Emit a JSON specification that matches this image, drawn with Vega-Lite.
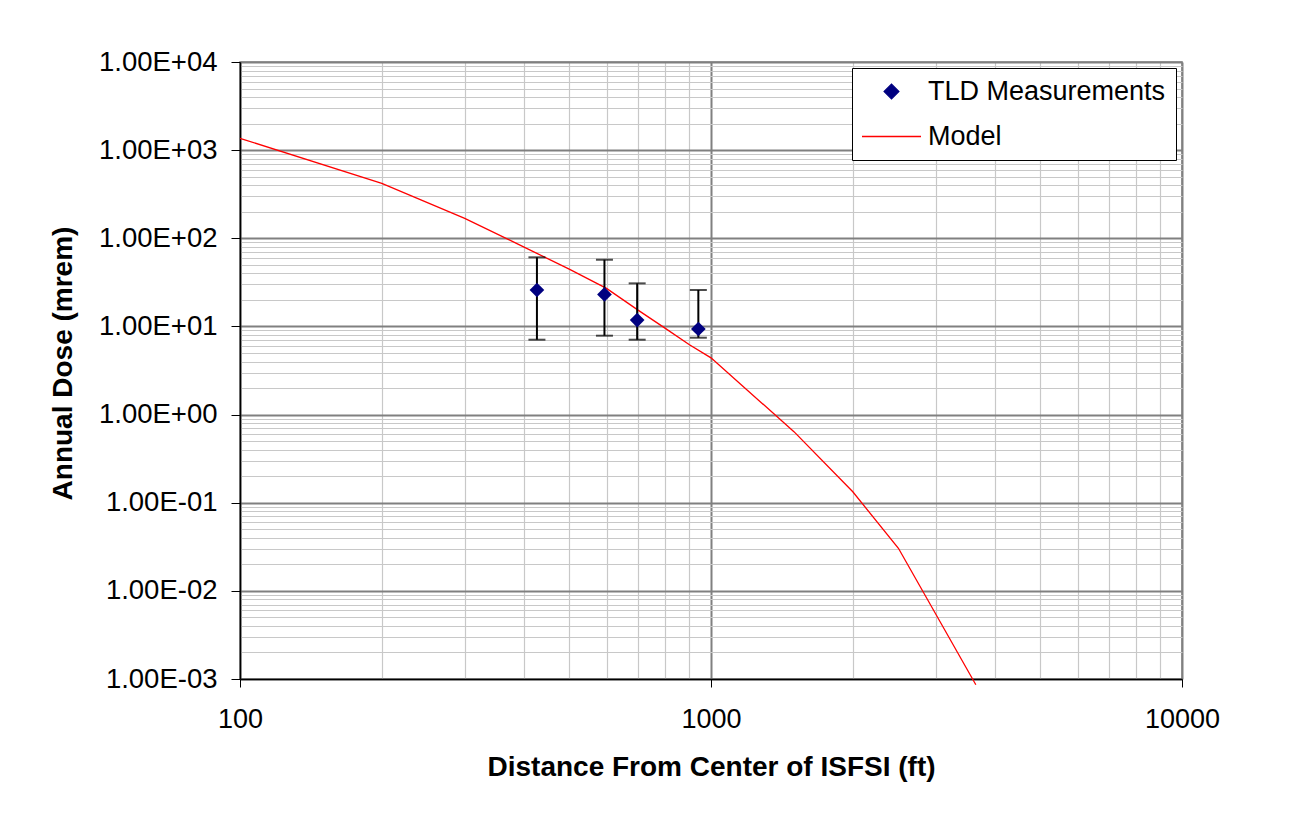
{
  "$schema": "https://vega.github.io/schema/vega-lite/v6.json",
  "autosize": {"type": "none"},
  "width": 942,
  "height": 617,
  "padding": {"left": 240, "top": 62, "right": 112, "bottom": 147},
  "background": "white",
  "datasets": {
    "model": [
      {"distance": 100, "dose": 1362, "series": "Model"},
      {"distance": 200, "dose": 420, "series": "Model"},
      {"distance": 300, "dose": 168, "series": "Model"},
      {"distance": 400, "dose": 80, "series": "Model"},
      {"distance": 500, "dose": 44.6, "series": "Model"},
      {"distance": 600, "dose": 27, "series": "Model"},
      {"distance": 700, "dose": 15.3, "series": "Model"},
      {"distance": 800, "dose": 9.5, "series": "Model"},
      {"distance": 900, "dose": 6.2, "series": "Model"},
      {"distance": 1000, "dose": 4.4, "series": "Model"},
      {"distance": 1500, "dose": 0.64, "series": "Model"},
      {"distance": 2000, "dose": 0.133, "series": "Model"},
      {"distance": 2500, "dose": 0.0304, "series": "Model"},
      {"distance": 3650, "dose": 0.00086, "series": "Model"}
    ],
    "tld": [
      {"distance": 427, "dose": 25.9, "low": 7.07, "high": 60.8, "series": "TLD Measurements"},
      {"distance": 594, "dose": 23.1, "low": 7.85, "high": 57.1, "series": "TLD Measurements"},
      {"distance": 697, "dose": 11.8, "low": 7.07, "high": 30.8, "series": "TLD Measurements"},
      {"distance": 940, "dose": 9.35, "low": 7.45, "high": 25.9, "series": "TLD Measurements"}
    ]
  },
  "config": {
    "view": {"stroke": "#808080", "strokeWidth": 1.5},
    "font": "Liberation Sans"
  },
  "encoding": {
    "x": {
      "field": "distance",
      "type": "quantitative",
      "scale": {"type": "log", "domain": [100, 10000], "nice": false},
      "axis": {
        "title": "Distance From Center of ISFSI (ft)",
        "titleFont": "Liberation Sans",
        "titleFontSize": 28,
        "titleFontWeight": "bold",
        "titleColor": "black",
        "titlePadding": 21,
        "values": [100, 200, 300, 400, 500, 600, 700, 800, 900, 1000, 2000, 3000, 4000, 5000, 6000, 7000, 8000, 9000, 10000],
        "labelExpr": "abs(log(datum.value)/LN10 - round(log(datum.value)/LN10)) < 0.001 ? format(datum.value, 'd') : ''",
        "labelFont": "Liberation Sans",
        "labelFontSize": 27,
        "labelColor": "black",
        "labelPadding": 19,
        "labelOverlap": false,
        "labelFlush": false,
        "labelBound": false,
        "tickSize": 8,
        "tickColor": "black",
        "tickOpacity": {"condition": {"test": "abs(log(datum.value)/LN10 - round(log(datum.value)/LN10)) < 0.001", "value": 1}, "value": 0},
        "domainColor": "black",
        "domainWidth": 1.5,
        "grid": true,
        "gridColor": {"condition": {"test": "abs(log(datum.value)/LN10 - round(log(datum.value)/LN10)) < 0.001", "value": "#808080"}, "value": "#c8c8c8"},
        "gridWidth": {"condition": {"test": "abs(log(datum.value)/LN10 - round(log(datum.value)/LN10)) < 0.001", "value": 2}, "value": 1.2},
        "gridOpacity": 1
      }
    },
    "y": {
      "field": "dose",
      "type": "quantitative",
      "scale": {"type": "log", "domain": [0.001, 10000], "nice": false},
      "axis": {
        "title": "Annual Dose (mrem)",
        "titleFont": "Liberation Sans",
        "titleFontSize": 28,
        "titleFontWeight": "bold",
        "titleColor": "black",
        "titlePadding": 21,
        "titleY": 301,
        "values": [0.001, 0.002, 0.003, 0.004, 0.005, 0.006, 0.007, 0.008, 0.009, 0.01, 0.02, 0.03, 0.04, 0.05, 0.06, 0.07, 0.08, 0.09, 0.1, 0.2, 0.3, 0.4, 0.5, 0.6, 0.7, 0.8, 0.9, 1, 2, 3, 4, 5, 6, 7, 8, 9, 10, 20, 30, 40, 50, 60, 70, 80, 90, 100, 200, 300, 400, 500, 600, 700, 800, 900, 1000, 2000, 3000, 4000, 5000, 6000, 7000, 8000, 9000, 10000],
        "labelExpr": "abs(log(datum.value)/LN10 - round(log(datum.value)/LN10)) < 0.001 ? '1.00E' + (round(log(datum.value)/LN10) < 0 ? '-' : '+') + (abs(round(log(datum.value)/LN10)) < 10 ? '0' : '') + abs(round(log(datum.value)/LN10)) : ''",
        "labelFont": "Liberation Sans",
        "labelFontSize": 27.5,
        "labelColor": "black",
        "labelPadding": 14,
        "labelOverlap": false,
        "labelFlush": false,
        "labelBound": false,
        "tickSize": 9,
        "tickColor": "black",
        "tickOpacity": {"condition": {"test": "abs(log(datum.value)/LN10 - round(log(datum.value)/LN10)) < 0.001", "value": 1}, "value": 0},
        "domainColor": "black",
        "domainWidth": 1.5,
        "grid": true,
        "gridColor": {"condition": {"test": "abs(log(datum.value)/LN10 - round(log(datum.value)/LN10)) < 0.001", "value": "#808080"}, "value": "#c8c8c8"},
        "gridWidth": {"condition": {"test": "abs(log(datum.value)/LN10 - round(log(datum.value)/LN10)) < 0.001", "value": 2}, "value": 1.2},
        "gridOpacity": 1
      }
    }
  },
  "layer": [
    {
      "data": {"name": "model"},
      "mark": {"type": "line", "strokeWidth": 1.3, "clip": false},
      "encoding": {
        "color": {
          "field": "series",
          "type": "nominal",
          "scale": {"domain": ["TLD Measurements", "Model"], "range": ["#000080", "#FF0000"]},
          "legend": {
            "title": null,
            "orient": "none",
            "legendX": 612,
            "legendY": 6,
            "strokeColor": "black",
            "fillColor": "white",
            "padding": 10,
            "labelFont": "Liberation Sans",
            "labelFontSize": 27,
            "labelColor": "black",
            "labelLimit": 500,
            "labelOffset": 23,
            "symbolOffset": 16,
            "symbolSize": 3481,
            "rowPadding": 17,
            "encode": {
              "symbols": {
                "update": {
                  "shape": {"signal": "datum.value === 'Model' ? 'stroke' : 'diamond'"},
                  "fill": {"signal": "datum.value === 'Model' ? 'transparent' : '#000080'"},
                  "stroke": {"signal": "datum.value === 'Model' ? '#FF0000' : 'transparent'"},
                  "strokeWidth": {"value": 1.3},
                  "size": {"signal": "datum.value === 'Model' ? 3481 : 216"},
                  "opacity": {"value": 1},
                  "fillOpacity": {"value": 1},
                  "strokeOpacity": {"value": 1}
                }
              }
            }
          }
        }
      }
    },
    {
      "data": {"name": "tld"},
      "mark": {"type": "rule", "color": "black", "strokeWidth": 2},
      "encoding": {
        "y": {"field": "low", "type": "quantitative"},
        "y2": {"field": "high"}
      }
    },
    {
      "data": {"name": "tld"},
      "mark": {"type": "tick", "orient": "horizontal", "color": "black", "thickness": 2, "size": 17},
      "encoding": {
        "y": {"field": "low", "type": "quantitative"}
      }
    },
    {
      "data": {"name": "tld"},
      "mark": {"type": "tick", "orient": "horizontal", "color": "black", "thickness": 2, "size": 17},
      "encoding": {
        "y": {"field": "high", "type": "quantitative"}
      }
    },
    {
      "data": {"name": "tld"},
      "mark": {"type": "point", "shape": "diamond", "filled": true, "size": 216, "opacity": 1},
      "encoding": {
        "color": {"field": "series", "type": "nominal"}
      }
    }
  ]
}
